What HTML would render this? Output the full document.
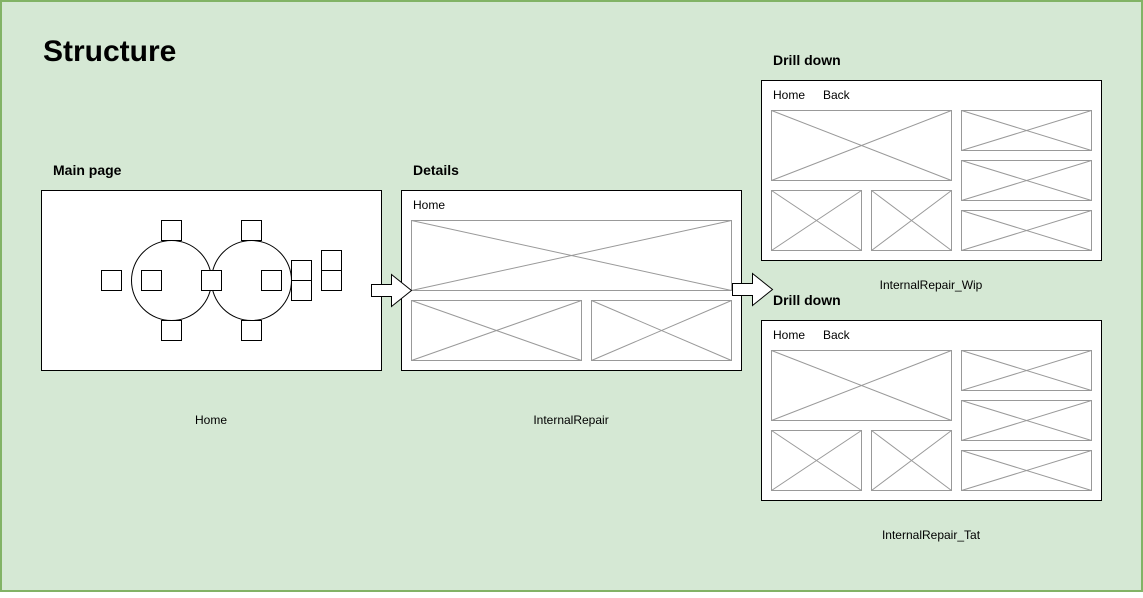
<!DOCTYPE html>
<html><head><style>
html,body{margin:0;padding:0;background:#fff;}
svg text{font-family:"Liberation Sans",Arial,sans-serif;}
</style></head><body>
<svg width="1143" height="593" xmlns="http://www.w3.org/2000/svg">
<rect x="1" y="1" width="1141" height="590" fill="#d5e8d4" stroke="#82b366" stroke-width="2"/>
<text x="43" y="61" font-size="30" font-weight="bold" fill="#000">Structure</text>
<text x="53" y="175" font-size="14" font-weight="bold">Main page</text>
<text x="413" y="175" font-size="14" font-weight="bold">Details</text>
<text x="773" y="65" font-size="14" font-weight="bold">Drill down</text>
<text x="773" y="305" font-size="14" font-weight="bold">Drill down</text>
<text x="211" y="424" font-size="12" text-anchor="middle">Home</text>
<text x="571" y="424" font-size="12" text-anchor="middle">InternalRepair</text>
<text x="931" y="289" font-size="12" text-anchor="middle">InternalRepair_Wip</text>
<text x="931" y="539" font-size="12" text-anchor="middle">InternalRepair_Tat</text>

<rect x="41.5" y="190.5" width="340" height="180" fill="#fff" stroke="#000"/>
<g fill="#fff" stroke="#000">
<circle cx="171.5" cy="280.5" r="40"/>
<circle cx="251.5" cy="280.5" r="40"/>
<rect x="161.5" y="220.5" width="20" height="20"/>
<rect x="241.5" y="220.5" width="20" height="20"/>
<rect x="161.5" y="320.5" width="20" height="20"/>
<rect x="241.5" y="320.5" width="20" height="20"/>
<rect x="101.5" y="270.5" width="20" height="20"/>
<rect x="141.5" y="270.5" width="20" height="20"/>
<rect x="201.5" y="270.5" width="20" height="20"/>
<rect x="261.5" y="270.5" width="20" height="20"/>
<rect x="291.5" y="260.5" width="20" height="20"/>
<rect x="291.5" y="280.5" width="20" height="20"/>
<rect x="321.5" y="250.5" width="20" height="20"/>
<rect x="321.5" y="270.5" width="20" height="20"/>
</g>

<rect x="401.5" y="190.5" width="340" height="180" fill="#fff" stroke="#000"/>
<text x="413" y="209" font-size="12">Home</text>
<g fill="#fff" stroke="#999">
<rect x="411.5" y="220.5" width="320" height="70"/><path d="M411.5 220.5L731.5 290.5M731.5 220.5L411.5 290.5"/>
<rect x="411.5" y="300.5" width="170" height="60"/><path d="M411.5 300.5L581.5 360.5M581.5 300.5L411.5 360.5"/>
<rect x="591.5" y="300.5" width="140" height="60"/><path d="M591.5 300.5L731.5 360.5M731.5 300.5L591.5 360.5"/>
</g>

<g id="dd">
<rect x="761.5" y="80.5" width="340" height="180" fill="#fff" stroke="#000"/>
<text x="773" y="99" font-size="12">Home</text>
<text x="823" y="99" font-size="12">Back</text>
<g fill="#fff" stroke="#999">
<rect x="771.5" y="110.5" width="180" height="70"/><path d="M771.5 110.5L951.5 180.5M951.5 110.5L771.5 180.5"/>
<rect x="771.5" y="190.5" width="90" height="60"/><path d="M771.5 190.5L861.5 250.5M861.5 190.5L771.5 250.5"/>
<rect x="871.5" y="190.5" width="80" height="60"/><path d="M871.5 190.5L951.5 250.5M951.5 190.5L871.5 250.5"/>
<rect x="961.5" y="110.5" width="130" height="40"/><path d="M961.5 110.5L1091.5 150.5M1091.5 110.5L961.5 150.5"/>
<rect x="961.5" y="160.5" width="130" height="40"/><path d="M961.5 160.5L1091.5 200.5M1091.5 160.5L961.5 200.5"/>
<rect x="961.5" y="210.5" width="130" height="40"/><path d="M961.5 210.5L1091.5 250.5M1091.5 210.5L961.5 250.5"/>
</g>
</g>
<use href="#dd" y="240"/>

<path d="M371.5 284.5H391.5V274.5L411.5 290.5L391.5 306.5V296.5H371.5Z" fill="#fff" stroke="#000"/>
<path d="M732.5 283.5H752.5V273.5L772.5 289.5L752.5 305.5V295.5H732.5Z" fill="#fff" stroke="#000"/>
</svg>
</body></html>
